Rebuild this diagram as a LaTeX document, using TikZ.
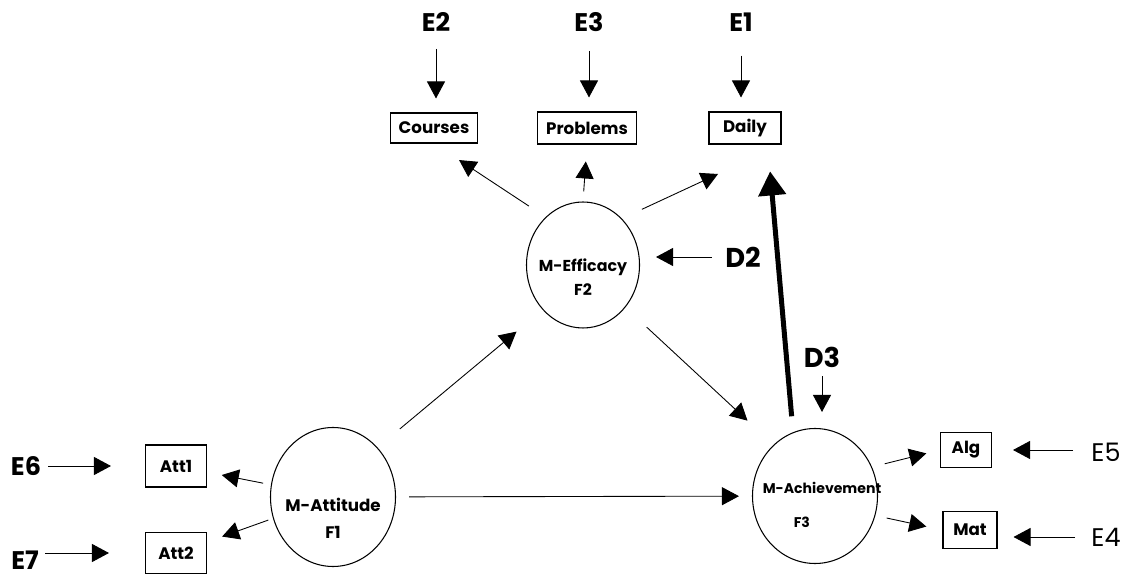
\documentclass[tikz,border=0pt]{standalone}
\usepackage{fontspec}
\setmainfont{Poppins}
\usetikzlibrary{arrows.meta,shapes.geometric}
\begin{document}
\begin{tikzpicture}[
    x=0.2mm, y=-0.2mm,
    observed/.style={draw, line width=0.6pt, inner sep=0pt, font=\bfseries\fontsize{9.5}{11}\selectfont},
    latent/.style={ellipse, draw, line width=0.6pt, inner sep=0pt},
    factorname/.style={align=center, inner sep=0pt, font=\bfseries\fontsize{9}{14}\selectfont},
    errlabel/.style={inner sep=0pt, font=\bfseries\fontsize{14.5}{16}\selectfont},
    link/.style={-{Triangle[length=3.4mm,width=3.6mm]}, line width=0.5pt},
    heavylink/.style={-{Triangle[length=4.8mm,width=5.4mm]}, line width=1mm}
]
    \useasboundingbox (0,0) rectangle (1127,577);

    \node[errlabel] at (436,22) (E2) {E2};
    \node[errlabel] at (589,22) (E3) {E3};
    \node[errlabel] at (741,22) (E1) {E1};

    \node[observed, minimum width=17.4mm, minimum height=6mm] at (434,128) (courses) {Courses};
    \node[observed, minimum width=19.8mm, minimum height=6.4mm] at (587,128) (problems) {Problems};
    \node[observed, minimum width=14.4mm, minimum height=6.4mm] at (745,128) (daily) {Daily};

    \node[latent, minimum width=22.6mm, minimum height=25.2mm,
        label={[factorname, yshift=-2.4mm]center:{M-Efficacy\\F2}}] at (583,265) (eff) {};
    \node[errlabel, font=\bfseries\fontsize{15.5}{16}\selectfont] at (743,257) (D2) {D2};

    \node[latent, minimum width=25mm, minimum height=27.8mm,
        label={[factorname, yshift=-4.2mm, font=\bfseries\fontsize{9.5}{15.3}\selectfont]center:{M-Attitude\\F1}}] at (333,497) (att) {};
    \node[observed, minimum width=12.2mm, minimum height=8.4mm] at (176,466) (att1) {Att1};
    \node[observed, minimum width=12.2mm, minimum height=8.2mm] at (176,553) (att2) {Att2};
    \node[errlabel] at (26,466) (E6) {E6};
    \node[errlabel] at (25,560) (E7) {E7};

    \node[latent, minimum width=25mm, minimum height=27mm,
        label={[factorname, align=left, xshift=1.4mm, yshift=-1.8mm, font=\bfseries\fontsize{8}{19.3}\selectfont]center:{M-Achievement\\\hspace*{6.2mm}F3}}] at (815,496) (ach) {};
    \node[errlabel, font=\bfseries\fontsize{15.5}{16}\selectfont] at (822,357) (D3) {D3};
    \node[observed, minimum width=10.2mm, minimum height=7mm] at (966,450) (alg) {Alg};
    \node[observed, minimum width=10.8mm, minimum height=7.4mm] at (970,530) (mat) {Mat};
    \node[errlabel, font=\fontsize{14.5}{16}\selectfont] at (1106,452) (E5) {E5};
    \node[errlabel, font=\fontsize{14.5}{16}\selectfont] at (1106,537) (E4) {E4};

    \draw[link, shorten <=3.4mm, shorten >=2.8mm] (E2.south) -- (E2.south |- courses.north);
    \draw[link, shorten <=3.8mm, shorten >=2.8mm] (E3.south) -- (E3.south |- problems.north);
    \draw[link, shorten <=4.8mm, shorten >=2.8mm] (E1.south) -- (E1.south |- daily.north);

    \draw[link, shorten <=4mm, shorten >=6mm] (eff.128) -- (courses.south);
    \draw[link, shorten <=2mm, shorten >=3.4mm] (eff.north) -- (problems.south);
    \draw[link, shorten <=4.4mm, shorten >=14mm] (eff.50) -- (daily.south east);
    \draw[link, shorten <=2.6mm, shorten >=3.2mm] (D2.west) -- (D2.west -| eff.east);

    \draw[link, shorten <=5.8mm, shorten >=6.8mm] (att.48) -- (eff.228);
    \draw[link, shorten <=5.8mm, shorten >=7.1mm] (eff.315) -- (ach.129);
    \draw[link, shorten <=2.6mm, shorten >=2.6mm] (att) -- (ach);
    \draw[heavylink, shorten <=3.2mm, shorten >=5.4mm] (ach.109) -- (daily.-36);
    \draw[link, shorten <=1.7mm, shorten >=3.2mm] (D3.south) -- (D3.south |- ach.north);

    \draw[link, shorten <=1.6mm, shorten >=3mm] (att) -- (att1);
    \draw[link, shorten <=1mm, shorten >=3.2mm] (att) -- (att2);
    \draw[link, shorten <=1.4mm, shorten >=6.8mm] (E6.east |- att1) -- (att1.west);
    \draw[link, shorten <=1.2mm, shorten >=7.2mm] (E7.east |- att2) -- (att2.west);

    \draw[link, shorten <=2.6mm, shorten >=2.8mm] (ach.27) -- (alg.west);
    \draw[link, shorten <=2.3mm, shorten >=3.3mm] (ach.-18) -- (mat.west);
    \draw[link, shorten <=3.6mm, shorten >=4.2mm] (E5.west |- alg) -- (alg.east);
    \draw[link, shorten <=3.2mm, shorten >=3.2mm] (E4.west) -- (E4.west -| mat.east);
\end{tikzpicture}
\end{document}
